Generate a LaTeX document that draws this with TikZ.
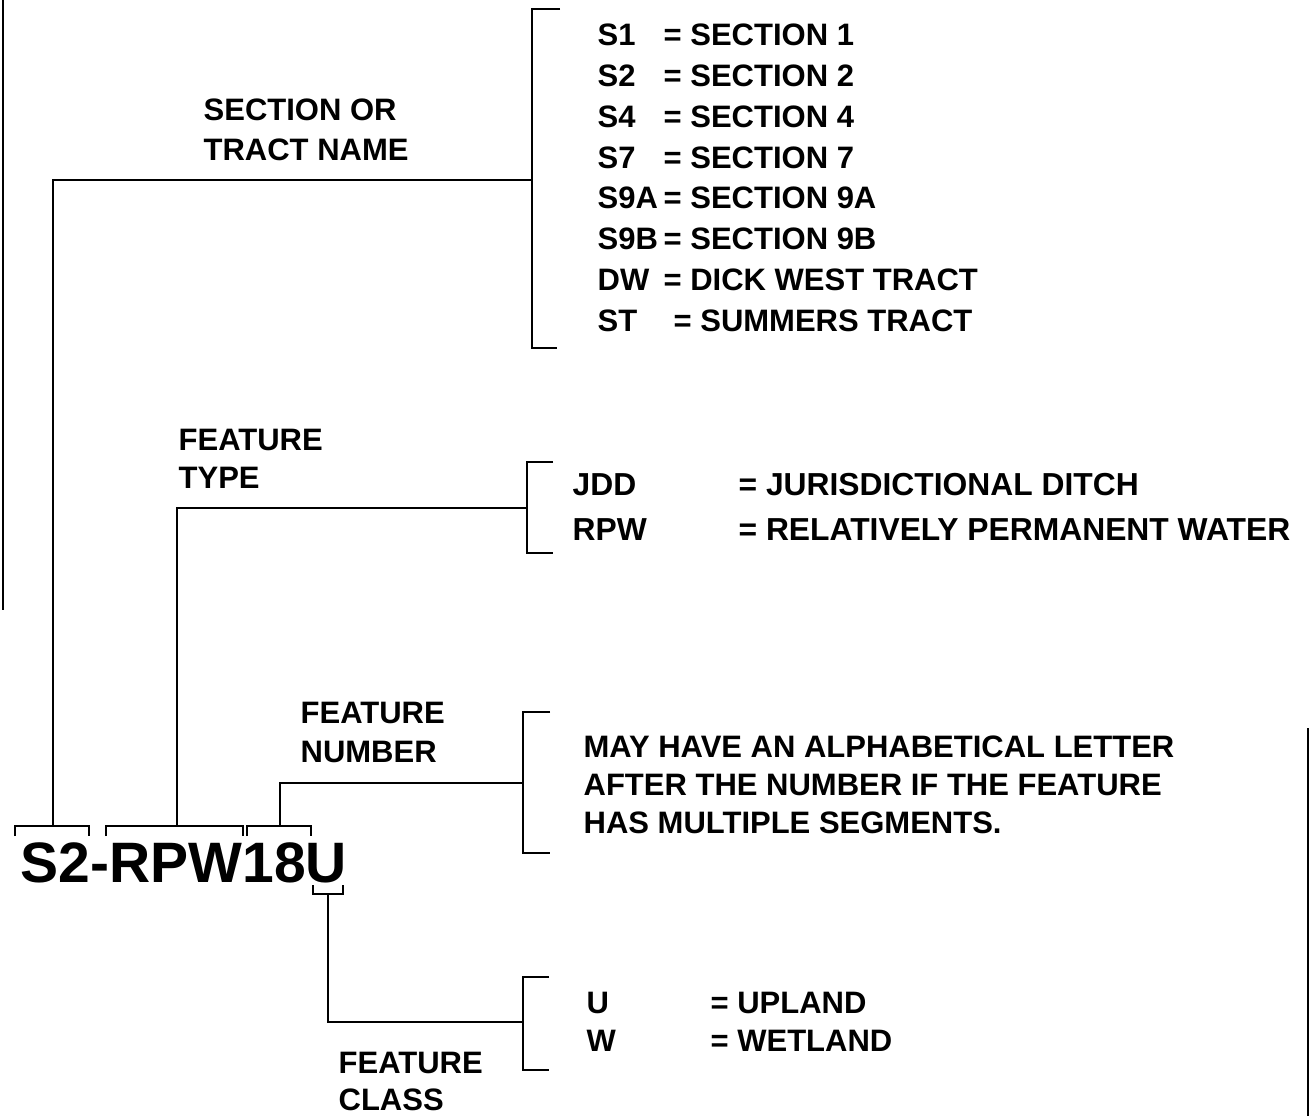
\documentclass[tikz,border=0pt]{standalone}
\usepackage{fontspec}
\setmainfont{Liberation Sans}
\begin{document}
\begin{tikzpicture}[x=1pt,y=-1pt, line width=1.3pt,
  txt/.style={font=\fontsize{31}{31}\selectfont\bfseries, inner sep=0pt, anchor=west},
  wtxt/.style={font=\fontsize{31.8}{31.8}\selectfont\bfseries, inner sep=0pt, anchor=west},
  big/.style={font=\fontsize{57}{57}\selectfont\bfseries, inner sep=0pt, anchor=base west},
  scan/.style={line width=2.5pt}]
\useasboundingbox (0,0) rectangle (1310,1116);

% labels
\node[txt] (secor) at (203,110) {SECTION OR};
\node[txt] (tract) at (203,150) {TRACT NAME};
\node[txt] (ftype1) at (178,440) {FEATURE};
\node[txt] (ftype2) at (178,478) {TYPE};
\node[txt] (fnum1) at (300,713) {FEATURE};
\node[txt] (fnum2) at (300,752) {NUMBER};
\node[txt] (fcls1) at (338,1063) {FEATURE};
\node[txt] (fcls2) at (338,1100) {CLASS};

% section list
\foreach \c/\v/\i in {S1/SECTION 1/0, S2/SECTION 2/1, S4/SECTION 4/2, S7/SECTION 7/3,
  S9A/SECTION 9A/4, S9B/SECTION 9B/5, DW/DICK WEST TRACT/6}{
  \node[txt] (code\i) at (597,35+40.8*\i) {\c};
  \node[txt] (val\i) at (663,35+40.8*\i) {= \v};
}
\node[txt] (code7) at (597,35+40.8*7) {ST};
\node[txt] (val7) at (673,35+40.8*7) {= SUMMERS TRACT};

% feature type
\node[wtxt] (jdd) at (572,485) {JDD};
\node[wtxt] (rpw) at (572,530) {RPW};
\node[wtxt] (jddv) at (738,485) {= JURISDICTIONAL DITCH};
\node[wtxt] (rpwv) at (738,530) {= RELATIVELY PERMANENT WATER};

% feature number
\node[txt] (may1) at (583,747) {MAY HAVE AN ALPHABETICAL LETTER};
\node[txt] (may2) at (583,785) {AFTER THE NUMBER IF THE FEATURE};
\node[txt] (may3) at (583,823) {HAS MULTIPLE SEGMENTS.};

% feature class
\node[txt] (u) at (586,1003) {U};
\node[txt] (w) at (586,1041) {W};
\node[txt] (uv) at (710,1003) {= UPLAND};
\node[txt] (wv) at (710,1041) {= WETLAND};

% code
\node[big] (code) at (20,882) {S2-RPW18U};

% right brackets
\coordinate (br1) at (532,180);
\coordinate (br2) at (527,508);
\coordinate (br3) at (523,783);
\coordinate (br4) at (523,1022);
\draw (560,9) -- (532,9) -- (532,348) -- (557,348);
\draw (553,462) -- (527,462) -- (527,553) -- (553,553);
\draw (550,712) -- (523,712) -- (523,853) -- (550,853);
\draw (549,977) -- (523,977) -- (523,1070) -- (549,1070);

% code brackets
\coordinate (cb1) at (53,826);
\coordinate (cb2) at (177,826);
\coordinate (cb3) at (280,826);
\coordinate (cb4) at (328,894);
\draw (15,836) -- (15,826) -- (89,826) -- (89,836);
\draw (106,836) -- (106,826) -- (243,826) -- (243,836);
\draw (247,836) -- (247,826) -- (311,826) -- (311,836);
\draw (313,885) -- (313,894) -- (343,894) -- (343,885);

% connectors
\draw (cb1) |- (br1);
\draw (cb2) |- (br2);
\draw (cb3) |- (br3);
\draw (cb4) |- (br4);

% scan edges
\draw[scan] (3,0) -- (3,610);
\draw[line width=2pt] (1308,728) -- (1308,1116);
\end{tikzpicture}
\end{document}
